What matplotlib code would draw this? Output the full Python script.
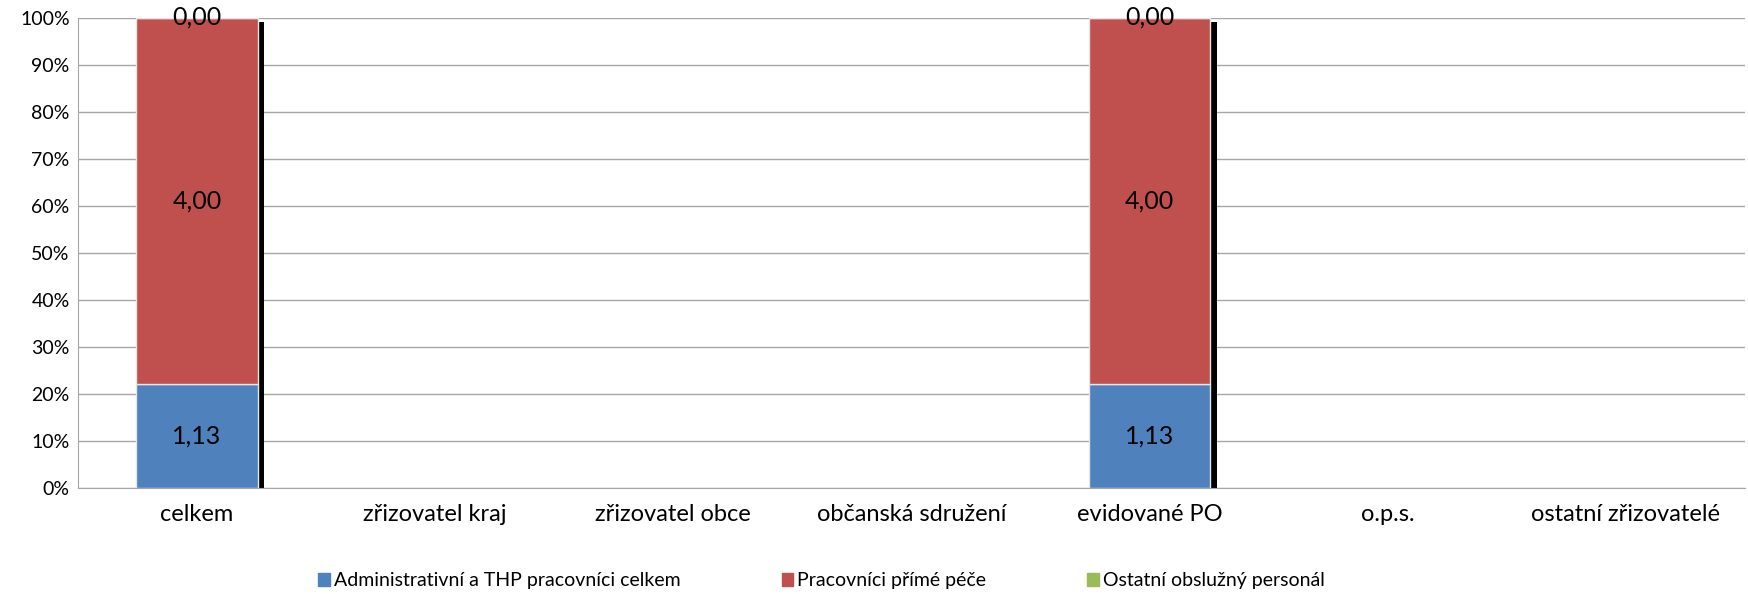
import matplotlib.pyplot as plt
import numpy as np

# Data
categories = ['celkem', 'zřizovatel kraj', 'zřizovatel obce', 'občanská sdružení',
              'evidované PO', 'o.p.s.', 'ostatní zřizovatelé']
admin = [1.13, 0, 0, 0, 1.13, 0, 0]
prime_pece = [4.00, 0, 0, 0, 4.00, 0, 0]
ostatni = [0.00, 0, 0, 0, 0.00, 0, 0]
series_names = ['Administrativní a THP pracovníci celkem', 'Pracovníci přímé péče',
                'Ostatní obslužný personál']
colors = ['#4f81bd', '#c0504d', '#9bbb59']

plt.rcParams['font.family'] = ['Lato', 'DejaVu Sans']

data = np.array([admin, prime_pece, ostatni], dtype=float)
totals = data.sum(axis=0)
has_data = totals > 0
shares = np.zeros_like(data)
shares[:, has_data] = data[:, has_data] / totals[has_data]

fig = plt.figure(figsize=(17.48, 5.94), dpi=100)
ax = fig.add_axes([0.0446, 0.179, 0.9535, 0.7915])

x = np.arange(len(categories))
width = 0.51

# shadow behind bars
ax.bar(x[has_data] + 0.027, 0.99, width, color='black', zorder=1)

bottom = np.zeros(len(categories))
for i in range(3):
    ax.bar(x[has_data], shares[i, has_data], width, bottom=bottom[has_data],
           color=colors[i], edgecolor='#e6e6e6', linewidth=1, zorder=2,
           label=series_names[i])
    for j in np.where(has_data)[0]:
        y = bottom[j] + shares[i, j] / 2
        ax.text(x[j], y, f'{data[i, j]:.2f}'.replace('.', ','), ha='center',
                va='center', fontsize=18, zorder=3)
    bottom += shares[i]

ax.set_xlim(-0.5, len(categories) - 0.5)
ax.set_ylim(0, 1)
ax.set_yticks(np.arange(0, 1.01, 0.1))
ax.set_yticklabels([f'{int(round(v * 100))}%' for v in np.arange(0, 1.01, 0.1)], fontsize=14)
ax.set_xticks(x)
ax.set_xticklabels(categories, fontsize=17)
ax.tick_params(axis='x', length=0, pad=12)
ax.tick_params(axis='y', length=0, pad=6)
ax.grid(axis='y', color='#a6a6a6', linewidth=1, zorder=0)
ax.set_axisbelow(True)
for s in ['top', 'right']:
    ax.spines[s].set_visible(False)
for s in ['left', 'bottom']:
    ax.spines[s].set_color('#a6a6a6')

handles = [plt.Rectangle((0, 0), 1, 1, color=c) for c in colors]
fig.legend(handles, series_names, loc='center', bbox_to_anchor=(0.47, 0.022),
           ncol=3, frameon=False, fontsize=14, handlelength=0.6, handleheight=0.7,
           handletextpad=0.2, columnspacing=5.2)

fig.savefig('out.png', dpi=100)
